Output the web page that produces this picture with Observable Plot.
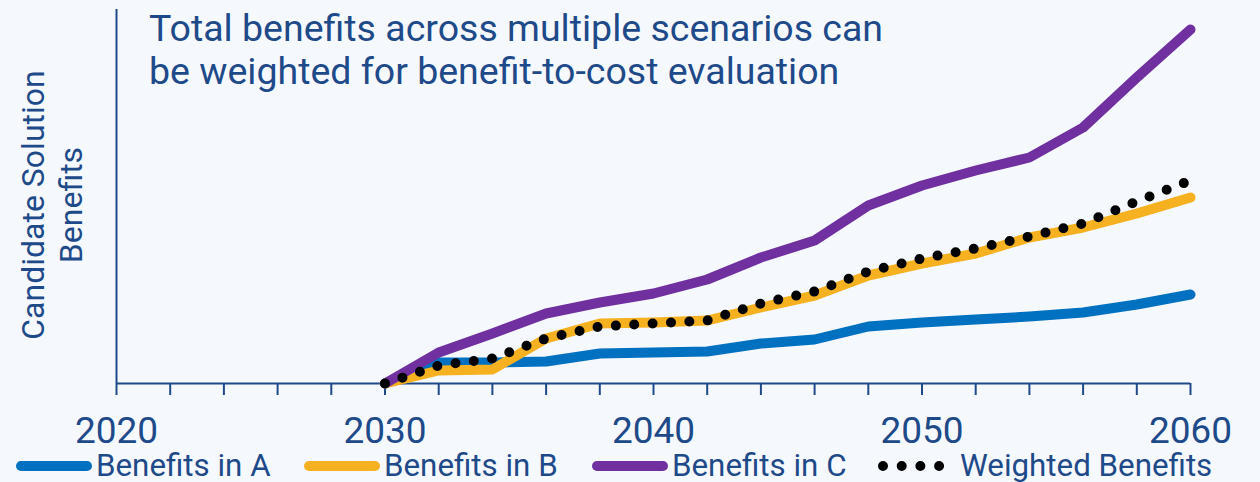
<!DOCTYPE html>
<html>
<head>
<meta charset="utf-8">
<script src="https://cdn.jsdelivr.net/npm/d3@7"></script>
<script src="https://cdn.jsdelivr.net/npm/@observablehq/plot@0.6"></script>
<style>
  html, body { margin: 0; padding: 0; background: #f5f9fe; }
  #wrap { position: relative; width: 1260px; height: 482px; background: #f5f9fe; font-family: Roboto, sans-serif; color: #1f4a8a; }
  #chart { position: absolute; left: 0; top: 0; }
  #title { position: absolute; left: 149px; top: 7px; font-size: 37.5px; line-height: 43px; white-space: nowrap; }
  #ylabel { position: absolute; left: 52px; top: 205px; width: 400px; font-size: 32px; line-height: 38px; text-align: center; transform: translate(-50%, -50%) rotate(-90deg); white-space: nowrap; }
  .leg { position: absolute; top: 453px; height: 26px; display: flex; align-items: center; font-size: 31.3px; white-space: nowrap; }
  .leg svg { display: block; margin-right: 4px; flex: none; }
  .leg span { display: block; height: 26px; line-height: 26px; }
</style>
</head>
<body>
<div id="wrap">
  <div id="chart"></div>
  <div id="title"></div>
  <div id="ylabel"></div>
  <div id="legend"></div>
</div>
<script>
const titleLines = ["Total benefits across multiple scenarios can", "be weighted for benefit-to-cost evaluation"];
const yLabelLines = ["Candidate Solution", "Benefits"];
const seriesNames = ["Benefits in A", "Benefits in B", "Benefits in C", "Weighted Benefits"];
const seriesColors = ["#0070c0", "#f5b120", "#7030a0", "#000000"];
const years = [2030, 2032, 2034, 2036, 2038, 2040, 2042, 2044, 2046, 2048, 2050, 2052, 2054, 2056, 2058, 2060];
const benefitsA = [0, 21, 21, 22, 30, 31, 32, 40, 44, 57, 61, 64, 67, 71, 79, 89];
const benefitsB = [0, 13, 14, 45, 60, 61, 63, 76, 88, 108, 120, 130, 146, 156, 170, 186];
const benefitsC = [0, 31, 50, 70, 81, 90, 104, 126, 143, 178, 198, 213, 226, 256, 306, 354];
const weighted = [0, 18, 25, 45, 57, 60, 63, 80, 92, 112, 125, 135, 147, 160, 182, 203];
const xTicks = [2020, 2022, 2024, 2026, 2028, 2030, 2032, 2034, 2036, 2038, 2040, 2042, 2044, 2046, 2048, 2050, 2052, 2054, 2056, 2058, 2060];
const xDomain = [2020, 2060];
const yDomain = [0, 374];

const ink = "#1f4a8a";
const toRows = vals => years.map((year, i) => ({year, value: vals[i]}));
const [rowsA, rowsB, rowsC, rowsW] = [benefitsA, benefitsB, benefitsC, weighted].map(toRows);

const chart = Plot.plot({
  width: 1260,
  height: 450,
  marginLeft: 116,
  marginRight: 70,
  marginTop: 9,
  marginBottom: 67,
  style: { background: "transparent", fontFamily: "Roboto, sans-serif", fontSize: "37px", color: ink, overflow: "visible" },
  x: { domain: xDomain, ticks: xTicks, tickFormat: d => (d % 10 === 0 ? String(d) : ""), tickSize: 12, tickPadding: 21, label: null },
  y: { domain: yDomain, axis: null },
  marks: [
    Plot.ruleX([xDomain[0]], { stroke: ink, strokeWidth: 2 }),
    Plot.ruleY([yDomain[0]], { stroke: ink, strokeWidth: 2 }),
    Plot.line(rowsA, { x: "year", y: "value", stroke: seriesColors[0], strokeWidth: 10, strokeLinecap: "round", strokeLinejoin: "round" }),
    Plot.line(rowsB, { x: "year", y: "value", stroke: seriesColors[1], strokeWidth: 10, strokeLinecap: "round", strokeLinejoin: "round" }),
    Plot.line(rowsC, { x: "year", y: "value", stroke: seriesColors[2], strokeWidth: 10, strokeLinecap: "round", strokeLinejoin: "round" }),
    Plot.line(rowsW, { x: "year", y: "value", stroke: seriesColors[3], strokeWidth: 10, strokeLinecap: "round", strokeDasharray: "0 18.4" })
  ]
});
document.getElementById("chart").appendChild(chart);
// thicken the x-axis tick lines
d3.select(chart).selectAll("g[aria-label^='x-axis'] line, g[aria-label^='x-axis'] path").attr("stroke-width", 2);

document.getElementById("title").innerHTML = titleLines.join("<br>");
document.getElementById("ylabel").innerHTML = yLabelLines.join("<br>");

const legendLeft = [16, 304, 592, 878];
const legend = document.getElementById("legend");
seriesNames.forEach((name, i) => {
  const item = document.createElement("div");
  item.className = "leg";
  item.style.left = legendLeft[i] + "px";
  const dotted = i === 3;
  const w = dotted ? 66 : 76;
  const sw = d3.create("svg").attr("width", w).attr("height", 14);
  if (dotted) {
    sw.append("line").attr("x1", 5).attr("x2", 62).attr("y1", 7).attr("y2", 7)
      .attr("stroke", seriesColors[i]).attr("stroke-width", 10).attr("stroke-linecap", "round").attr("stroke-dasharray", "0 18.7");
  } else {
    sw.append("line").attr("x1", 5).attr("x2", w - 5).attr("y1", 7).attr("y2", 7)
      .attr("stroke", seriesColors[i]).attr("stroke-width", 10).attr("stroke-linecap", "round");
  }
  item.appendChild(sw.node());
  const span = document.createElement("span");
  span.textContent = name;
  if (dotted) span.style.marginLeft = "12px";
  item.appendChild(span);
  legend.appendChild(item);
});
</script>
</body>
</html>
